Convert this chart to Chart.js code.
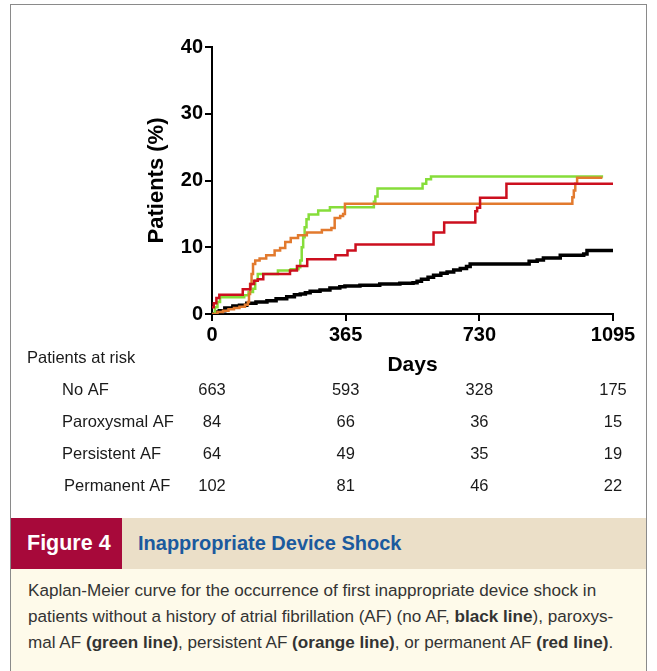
<!DOCTYPE html>
<html><head><meta charset="utf-8">
<script src="https://cdn.jsdelivr.net/npm/chart.js@4.4.1/dist/chart.umd.min.js"></script>
<style>
html,body{margin:0;padding:0;background:#fff;}
body{width:657px;height:671px;position:relative;overflow:hidden;font-family:"Liberation Sans",Arial,sans-serif;}
#frame{position:absolute;left:10px;top:4px;width:637px;height:700px;border:1px solid #8a8a8a;box-sizing:border-box;}
#wrap{position:absolute;left:0;top:0;width:657px;height:510px;}
#hdr{position:absolute;left:11px;top:518px;width:635px;height:51px;background:#EBDFC8;}
#fig{position:absolute;left:0;top:0;width:111px;height:51px;background:#A7093A;color:#fff;font-weight:bold;font-size:21.5px;line-height:51px;padding-left:16px;box-sizing:border-box;white-space:nowrap;}
#ttl{position:absolute;left:127px;top:0;line-height:51px;color:#1B5A9E;font-weight:bold;font-size:20px;white-space:nowrap;}
#cap{position:absolute;left:11px;top:569px;width:635px;height:110px;background:#FEFAEA;}
#txt{position:absolute;left:17px;top:9px;font-size:17.1px;line-height:26px;color:#333;white-space:nowrap;}
</style></head>
<body>
<div id="frame"></div>
<div id="wrap"><canvas id="c" width="657" height="510"></canvas></div>
<div id="hdr"><div id="fig">Figure 4</div><div id="ttl">Inappropriate Device Shock</div></div>
<div id="cap"><div id="txt">Kaplan-Meier curve for the occurrence of first inappropriate device shock in<br>patients without a history of atrial fibrillation (AF) (no AF, <b>black line</b>), paroxys-<br>mal AF <b>(green line)</b>, persistent AF <b>(orange line)</b>, or permanent AF <b>(red line)</b>.</div></div>
<script>
// ---- data (days, cumulative % of patients) ----
const noAfDays = [0, 10, 20, 35, 57, 75, 95, 120, 150, 175, 204, 225, 241, 255, 268, 295, 322, 349, 363, 404, 458, 513, 549, 560, 572, 590, 605, 625, 642, 660, 678, 695, 705, 860, 866, 888, 905, 951, 1015, 1024, 1095];
const noAfPct  = [0, 0.3, 0.5, 0.9, 1.2, 1.3, 1.6, 1.8, 2.0, 2.3, 2.6, 2.9, 3.0, 3.2, 3.4, 3.6, 3.9, 4.1, 4.2, 4.3, 4.5, 4.6, 4.7, 4.9, 5.2, 5.5, 5.8, 6.1, 6.3, 6.6, 6.8, 7.1, 7.5, 7.5, 7.9, 8.1, 8.4, 8.8, 9.0, 9.5, 9.5];

const parDays = [0, 8, 15, 22, 88, 100, 112, 118, 125, 180, 215, 236, 241, 245, 249, 253, 258, 264, 290, 322, 442, 446, 452, 575, 585, 598, 1068];
const parPct  = [0, 1.0, 1.8, 2.5, 2.8, 3.3, 3.8, 5.0, 6.0, 6.5, 6.7, 7.0, 8.0, 10.0, 11.5, 13.0, 14.2, 14.9, 15.5, 16.0, 16.8, 17.6, 18.8, 19.5, 20.2, 20.6, 20.6];

const persDays = [0, 5, 15, 30, 45, 60, 75, 90, 98, 101, 104, 108, 112, 118, 130, 148, 171, 186, 200, 215, 235, 259, 300, 326, 335, 350, 358, 363, 981, 984, 988, 992, 997, 1066];
const persPct  = [0, 0, 0.3, 0.5, 0.7, 0.9, 1.1, 1.4, 1.8, 3.0, 4.5, 6.0, 7.5, 8.0, 8.3, 8.8, 9.5, 9.9, 10.8, 11.4, 11.8, 12.2, 12.6, 12.9, 14.4, 14.7, 15.0, 16.5, 16.5, 17.5, 18.5, 19.5, 20.4, 20.4];

const permDays = [0, 5, 12, 20, 84, 105, 115, 125, 140, 213, 232, 260, 337, 370, 392, 605, 634, 719, 724, 732, 804, 1095];
const permPct  = [1.0, 1.6, 2.4, 2.9, 3.7, 4.5, 5.0, 5.2, 6.0, 6.5, 7.2, 8.2, 8.8, 9.5, 10.4, 12.2, 13.7, 15.4, 15.9, 17.4, 19.5, 19.5];

const xTicks = [0, 365, 730, 1095];
const yTicks = [0, 10, 20, 30, 40];

const riskGroups = ['No AF', 'Paroxysmal AF', 'Persistent AF', 'Permanent AF'];
const riskNoAf = [663, 593, 328, 175];
const riskPar  = [84, 66, 36, 15];
const riskPers = [64, 49, 35, 19];
const riskPerm = [102, 81, 46, 22];
const riskRows = [riskNoAf, riskPar, riskPers, riskPerm];

function pts(d, v) { return d.map((x, i) => ({x: x, y: v[i]})); }

const riskPlugin = {
  id: 'riskTable',
  afterDraw(chart) {
    const ctx = chart.ctx, xs = chart.scales.x;
    ctx.save();
    ctx.fillStyle = '#1a1a1a';
    ctx.textBaseline = 'middle';
    ctx.font = '16.5px "Liberation Sans", Arial, sans-serif';
    ctx.textAlign = 'left';
    ctx.fillText('Patients at risk', 27, 358);
    const rowY = [390, 422, 454, 486];
    const labX = [62, 62, 62, 64];
    riskGroups.forEach((g, r) => {
      ctx.textAlign = 'left';
      ctx.fillText(g, labX[r], rowY[r]);
      ctx.textAlign = 'center';
      riskRows[r].forEach((n, j) => {
        ctx.fillText(String(n), xs.getPixelForValue(xTicks[j]), rowY[r]);
      });
    });
    ctx.restore();
  }
};

const axisFont = {family: '"Liberation Sans", Arial, sans-serif', size: 20, weight: 'bold'};

new Chart(document.getElementById('c'), {
  type: 'line',
  data: {
    datasets: [
      {label: 'Permanent AF', data: pts(permDays, permPct), borderColor: '#CC0F1E', borderWidth: 2.5},
      {label: 'Persistent AF', data: pts(persDays, persPct), borderColor: '#E27A2E', borderWidth: 2.5},
      {label: 'Paroxysmal AF', data: pts(parDays, parPct), borderColor: '#86DD3A', borderWidth: 2.5},
      {label: 'No AF', data: pts(noAfDays, noAfPct), borderColor: '#000000', borderWidth: 3.5}
    ]
  },
  options: {
    responsive: false,
    animation: false,
    devicePixelRatio: 1,
    parsing: false,
    elements: {point: {radius: 0}, line: {stepped: true, tension: 0, fill: false, borderCapStyle: 'butt'}},
    layout: {padding: {top: 47, right: 44, bottom: 132, left: 0}},
    plugins: {legend: {display: false}, tooltip: {enabled: false}},
    scales: {
      x: {
        type: 'linear', min: 0, max: 1095,
        afterBuildTicks: s => { s.ticks = xTicks.map(v => ({value: v})); },
        afterFit: s => { s.height = 64; },
        ticks: {color: '#000', font: axisFont, padding: 2, maxRotation: 0, autoSkip: false, callback: v => String(v)},
        grid: {drawOnChartArea: false, drawTicks: true, tickLength: 7, color: '#000', lineWidth: 2},
        border: {display: true, color: '#000', width: 2},
        title: {display: true, text: 'Days', color: '#000', font: {family: '"Liberation Sans", Arial, sans-serif', size: 21, weight: 'bold'}, padding: {top: 0, bottom: 0}}
      },
      y: {
        type: 'linear', min: 0, max: 40,
        afterBuildTicks: s => { s.ticks = yTicks.map(v => ({value: v})); },
        afterFit: s => { s.width = 212; },
        ticks: {color: '#000', font: axisFont, padding: 2, callback: v => String(v)},
        grid: {drawOnChartArea: false, drawTicks: true, tickLength: 7, color: '#000', lineWidth: 2},
        border: {display: true, color: '#000', width: 2},
        title: {display: true, text: 'Patients (%)', color: '#000', font: {family: '"Liberation Sans", Arial, sans-serif', size: 22, weight: 'bold'}, padding: {top: 144, bottom: 0}}
      }
    }
  },
  plugins: [riskPlugin]
});
</script>
</body></html>
